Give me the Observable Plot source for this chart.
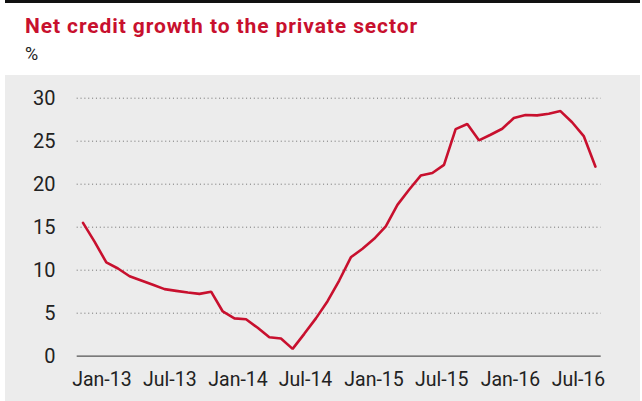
<!DOCTYPE html>
<html>
<head>
<meta charset="utf-8">
<script src="https://cdn.jsdelivr.net/npm/d3@7"></script>
<script src="https://cdn.jsdelivr.net/npm/@observablehq/plot@0.6"></script>
<style>
  html, body { margin: 0; padding: 0; background: #fff; }
  body { width: 642px; height: 401px; overflow: hidden; position: relative; font-family: Roboto, sans-serif; }
  #rule { position: absolute; left: 5px; top: 0; width: 635px; height: 3px; background: #111; }
  #title { position: absolute; left: 25px; top: 15.6px; font-weight: 700; font-size: 21px; line-height: 21px; letter-spacing: 0.9px; color: #c8102e; white-space: nowrap; }
  #subtitle { position: absolute; left: 25px; top: 44.9px; font-size: 18px; line-height: 18px; color: #222; }
  #chart { position: absolute; left: 5px; top: 75px; width: 635px; height: 326px; }
</style>
</head>
<body>
<div id="rule"></div>
<div id="title">Net credit growth to the private sector</div>
<div id="subtitle">%</div>
<div id="chart"></div>
<script>
// Net credit growth to the private sector, % (monthly observations)
const growth = [
  15.5, 13.3, 10.9, 10.2, 9.3, 8.8, 8.3, 7.8, 7.6, 7.4,
  7.25, 7.5, 5.2, 4.4, 4.3, 3.3, 2.2, 2.05, 0.85, 2.6,
  4.4, 6.4, 8.8, 11.5, 12.5, 13.65, 15.1, 17.6, 19.35, 21.0,
  21.3, 22.25, 26.4, 27.0, 25.1, 25.75, 26.45, 27.7, 28.05, 28.0,
  28.2, 28.5, 27.2, 25.6, 22.05
];
// x tick labels and their positions (in observation-index units)
const tickLabels = ["Jan-13", "Jul-13", "Jan-14", "Jul-14", "Jan-15", "Jul-15", "Jan-16", "Jul-16"];
const tickPositions = [1.62, 7.46, 13.31, 19.11, 24.99, 30.81, 36.70, 42.55];
const yTicks = [0, 5, 10, 15, 20, 25, 30];
const gridValues = [5, 10, 15, 20, 25, 30];

const data = growth.map((v, i) => ({i, v}));

const chart = Plot.plot({
  width: 635,
  height: 326,
  marginLeft: 71.7,
  marginRight: 39.3,
  marginTop: 22.7,
  marginBottom: 45.3,
  style: {background: "#ececec", fontFamily: "Roboto, sans-serif", color: "#222", overflow: "visible"},
  x: {domain: [-0.5, growth.length - 0.5], axis: null},
  y: {domain: [0, 30], axis: null},
  marks: [
    Plot.ruleY(gridValues, {stroke: "#6f6f6f", strokeWidth: 1, strokeDasharray: "1,2.85"}),
    Plot.ruleY([0], {stroke: "#555", strokeWidth: 1.3}),
    Plot.axisY(yTicks, {tickSize: 0, tickPadding: 21.7, fontSize: 20, fill: "#222", label: null}),
    Plot.axisX(tickPositions, {
      tickSize: 0, tickPadding: 15.5, fontSize: 19.5, fill: "#222", label: null,
      fontFamily: "'Liberation Sans Narrow', 'Arial Narrow', Roboto, sans-serif",
      tickFormat: d => tickLabels[tickPositions.indexOf(d)]
    }),
    Plot.line(data, {x: "i", y: "v", stroke: "#c8102e", strokeWidth: 2.6, strokeLinejoin: "miter"})
  ]
});
document.getElementById("chart").appendChild(chart);
</script>
</body>
</html>
